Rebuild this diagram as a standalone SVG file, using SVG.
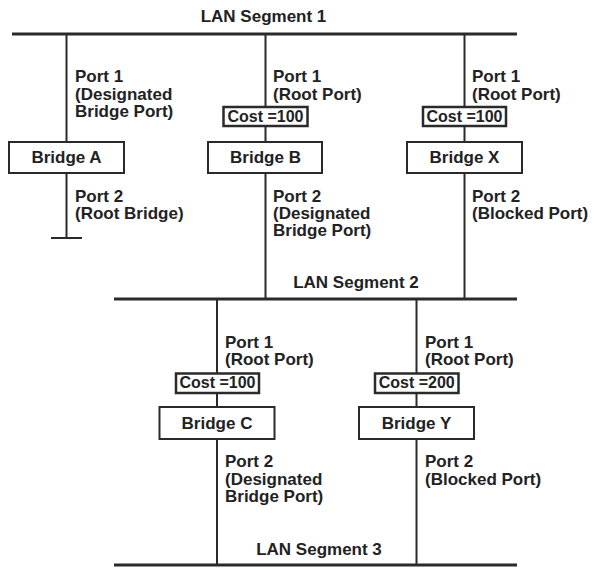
<svg xmlns="http://www.w3.org/2000/svg" width="594" height="568" viewBox="0 0 594 568">
<style>
text{font-family:"Liberation Sans",Arial,sans-serif;font-weight:bold;fill:#222;}
.lbl{font-size:17px;}
.cost{font-size:16px;}
.mid{text-anchor:middle;}
.seg{stroke:#2a2a2a;stroke-width:3;fill:none;}
.wire{stroke:#2a2a2a;stroke-width:2;fill:none;}
.box{fill:#fff;stroke:#2a2a2a;stroke-width:2;}
.cbox{fill:#fff;stroke:#2a2a2a;stroke-width:2.5;}
</style>
<rect width="594" height="568" fill="#fff"/>
<g id="connectors">
<line class="seg" x1="12" y1="34" x2="517" y2="34"/>
<line class="seg" x1="114" y1="299" x2="517" y2="299"/>
<line class="seg" x1="114" y1="565" x2="517" y2="565"/>
<line class="wire" x1="66.5" y1="34" x2="66.5" y2="238"/>
<line class="wire" x1="51" y1="238" x2="82" y2="238"/>
<line class="wire" x1="265.5" y1="34" x2="265.5" y2="299"/>
<line class="wire" x1="464.5" y1="34" x2="464.5" y2="299"/>
<line class="wire" x1="217" y1="299" x2="217" y2="565"/>
<line class="wire" x1="416.5" y1="299" x2="416.5" y2="565"/>
</g>
<g id="lan1"><text class="lbl mid" x="263.5" y="22">LAN Segment 1</text></g>
<g id="lan2"><text class="lbl mid" x="356" y="288">LAN Segment 2</text></g>
<g id="lan3"><text class="lbl mid" x="319" y="555">LAN Segment 3</text></g>
<g id="bridgeA">
<rect class="box" x="9" y="142" width="115" height="31"/>
<text class="lbl mid" x="66.5" y="163">Bridge A</text>
<text class="lbl" x="75" y="82">Port 1</text>
<text class="lbl" x="75" y="100">(Designated</text>
<text class="lbl" x="75" y="117">Bridge Port)</text>
<text class="lbl" x="75" y="202">Port 2</text>
<text class="lbl" x="75" y="219">(Root Bridge)</text>
</g>
<g id="bridgeB">
<rect class="cbox" x="223.5" y="107" width="84" height="19"/>
<text class="cost mid" x="265.5" y="122">Cost =100</text>
<rect class="box" x="208" y="142" width="114" height="31"/>
<text class="lbl mid" x="265.5" y="163">Bridge B</text>
<text class="lbl" x="273" y="82">Port 1</text>
<text class="lbl" x="273" y="100">(Root Port)</text>
<text class="lbl" x="273" y="202">Port 2</text>
<text class="lbl" x="273" y="219">(Designated</text>
<text class="lbl" x="273" y="236">Bridge Port)</text>
</g>
<g id="bridgeX">
<rect class="cbox" x="423" y="107" width="83" height="19"/>
<text class="cost mid" x="464.5" y="122">Cost =100</text>
<rect class="box" x="407" y="142" width="115" height="31"/>
<text class="lbl mid" x="464.5" y="163">Bridge X</text>
<text class="lbl" x="472" y="82">Port 1</text>
<text class="lbl" x="472" y="100">(Root Port)</text>
<text class="lbl" x="472" y="202">Port 2</text>
<text class="lbl" x="472" y="219">(Blocked Port)</text>
</g>
<g id="bridgeC">
<rect class="cbox" x="176" y="373.5" width="83" height="19.5"/>
<text class="cost mid" x="217.5" y="388">Cost =100</text>
<rect class="box" x="159.5" y="407" width="115" height="32"/>
<text class="lbl mid" x="217" y="429">Bridge C</text>
<text class="lbl" x="225" y="348">Port 1</text>
<text class="lbl" x="225" y="365">(Root Port)</text>
<text class="lbl" x="225" y="467">Port 2</text>
<text class="lbl" x="225" y="485">(Designated</text>
<text class="lbl" x="225" y="502">Bridge Port)</text>
</g>
<g id="bridgeY">
<rect class="cbox" x="375" y="373.5" width="83.5" height="19.5"/>
<text class="cost mid" x="416.7" y="388">Cost =200</text>
<rect class="box" x="359" y="407" width="115" height="32"/>
<text class="lbl mid" x="416.5" y="429">Bridge Y</text>
<text class="lbl" x="425" y="348">Port 1</text>
<text class="lbl" x="425" y="365">(Root Port)</text>
<text class="lbl" x="425" y="467">Port 2</text>
<text class="lbl" x="425" y="485">(Blocked Port)</text>
</g>
</svg>
